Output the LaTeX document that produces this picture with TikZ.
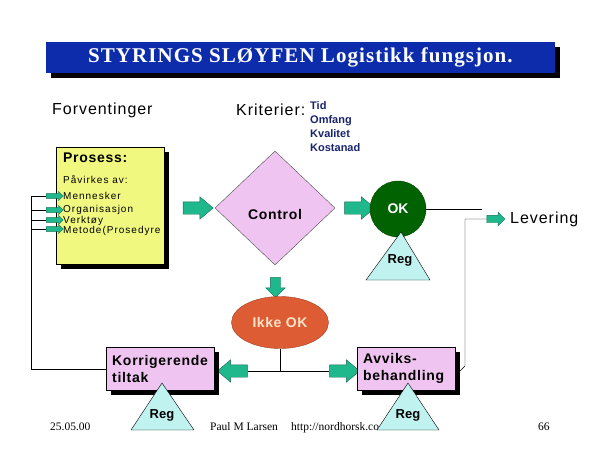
\documentclass[tikz,border=0pt]{standalone}
\usepackage{fontspec}
\setmainfont{Liberation Sans}
\newfontfamily\timesFont{Liberation Serif}
\usetikzlibrary{shapes.geometric,shapes.arrows,shadows}
\definecolor{titleblue}{RGB}{12,44,172}
\definecolor{criteriablue}{RGB}{24,36,110}
\definecolor{arrowgreen}{RGB}{30,184,140}
\definecolor{processyellow}{RGB}{240,248,128}
\definecolor{actionpink}{RGB}{240,196,240}
\definecolor{okgreen}{RGB}{0,98,0}
\definecolor{ikkered}{RGB}{222,92,52}
\definecolor{ikketext}{RGB}{255,226,200}
\definecolor{regcyan}{RGB}{192,242,240}
\tikzstyle{titleBar} = [
 rectangle,
 fill=titleblue,
 text=white,
 font=\timesFont\bfseries\fontsize{21}{24}\selectfont\addfontfeature{LetterSpace=5},
 drop shadow={shadow xshift=5pt, shadow yshift=-5pt, fill=black, opacity=1}
]
\tikzstyle{heading} = [
 anchor=west,
 inner sep=0,
 font=\fontsize{16}{19}\selectfont\addfontfeature{LetterSpace=6}
]
\tikzstyle{criteria} = [
 anchor=north west,
 inner sep=0,
 align=left,
 text=criteriablue,
 font=\bfseries\fontsize{11}{14}\selectfont
]
\tikzstyle{smallText} = [
 anchor=west,
 inner sep=0,
 text height=7pt,
 text depth=2pt,
 font=\fontsize{10}{12}\selectfont\addfontfeature{LetterSpace=10}
]
\tikzstyle{boldText} = [
 inner sep=0,
 text height=10pt,
 text depth=3pt,
 font=\bfseries\fontsize{14}{17}\selectfont\addfontfeature{LetterSpace=5}
]
\tikzstyle{regText} = [
 inner sep=0,
 text height=9pt,
 text depth=3pt,
 font=\bfseries\fontsize{13}{15}\selectfont
]
\tikzstyle{footer} = [
 anchor=west,
 inner sep=0,
 text height=8pt,
 text depth=2pt,
 font=\timesFont\fontsize{11.5}{13}\selectfont
]
\tikzstyle{shadowBox} = [
 rectangle,
 draw=black,
 thin,
 drop shadow={shadow xshift=5pt, shadow yshift=-5pt, fill=black, opacity=1}
]
\tikzstyle{yellowBox} = [shadowBox, fill=processyellow]
\tikzstyle{pinkBox} = [
 shadowBox,
 fill=actionpink,
 anchor=north west,
 align=left,
 inner xsep=6pt,
 minimum height=43,
 font=\bfseries\fontsize{14}{17}\selectfont\addfontfeature{LetterSpace=5}
]
\tikzstyle{blockArrow} = [
 single arrow,
 draw=arrowgreen!60!black,
 fill=arrowgreen,
 thin,
 inner xsep=0,
 single arrow head indent=0pt
]
\tikzstyle{bigArrow} = [blockArrow, inner ysep=6pt, single arrow head extend=5pt, single arrow tip angle=80, minimum height=30]
\tikzstyle{smallArrow} = [blockArrow, inner ysep=2.2pt, single arrow head extend=2.3pt, minimum height=17]
\tikzstyle{levArrow} = [blockArrow, inner ysep=3.5pt, single arrow head extend=3pt, minimum height=18]
\tikzstyle{downArrow} = [blockArrow, inner xsep=5pt, inner ysep=0, single arrow head extend=4.5pt, minimum height=20, shape border rotate=270]
\tikzstyle{diamondNode} = [diamond, draw=black!70, fill=actionpink, minimum width=120, minimum height=114, inner sep=0]
\tikzstyle{okNode} = [
 circle,
 draw=okgreen!70!black,
 fill=okgreen,
 text=white,
 minimum size=56,
 inner sep=0,
 font=\bfseries\fontsize{14}{17}\selectfont
]
\tikzstyle{ikkeNode} = [
 ellipse,
 draw=ikkered!70!black,
 fill=ikkered,
 text=ikketext,
 minimum width=97,
 minimum height=52,
 inner sep=0,
 font=\bfseries\fontsize{14}{17}\selectfont\addfontfeature{LetterSpace=4}
]
\tikzstyle{regTri} = [draw=black, fill=regcyan, thin]

\begin{document}
\begin{tikzpicture}[x=1pt,y=-1pt]
  \useasboundingbox (0,0) rectangle (600,450);
  \node[titleBar, minimum width=509, minimum height=31] (title) at (300.5,57.5) {STYRINGS SLØYFEN Logistikk fungsjon.};
  \node[heading] (forventinger) at (52,110) {Forventinger};
  \node[heading] (kriterier) at (236,110) {Kriterier:};
  \node[criteria] (tid) at (310,101) {Tid\\Omfang\\Kvalitet\\Kostanad};

  \node[yellowBox, minimum width=108, minimum height=117, anchor=north west] (prosess) at (56,147) {};
  \node[boldText, anchor=west] (prosessTitle) at (63,159) {Prosess:};
  \node[smallText] (pavirkes) at (63,181) {Påvirkes av:};
  \node[smallText] (mennesker) at (63,197) {Mennesker};
  \node[smallText] (organisasjon) at (63,210) {Organisasjon};
  \node[smallText] (verktoy) at (63,220.5) {Verktøy};
  \node[smallText] (metode) at (63,231) {Metode(Prosedyre};

  \node[bigArrow] (toControl) at (194.5,208) {};
  \node[diamondNode] (control) at (275,208) {};
  \node[boldText] (controlText) at (275,216) {Control};
  \node[bigArrow] (toOk) at (356,208) {};
  \node[okNode] (ok) at (398,209) {OK};
  \draw[regTri] (401,232) -- (366,280) -- (430,280) -- cycle;
  \node[regText] (regOk) at (400,260) {Reg};
  \node[levArrow] (toLevering) at (494,219) {};
  \node[heading] (levering) at (510,219) {Levering};

  \node[downArrow] (toIkke) at (275.5,285) {};
  \node[ikkeNode] (ikke) at (280,322.5) {Ikke OK};
  \node[bigArrow, shape border rotate=180] (toKorrigerende) at (236,371) {};
  \node[bigArrow] (toAvviks) at (341,371) {};
  \node[pinkBox, text width=96] (korrigerende) at (106,347) {Korrigerende\\tiltak};
  \node[pinkBox, text width=86] (avviks) at (357,347) {Avviks-\\behandling};

  \coordinate (feedTop) at (31,196);
  \coordinate (okEnd) at (482,209);
  \coordinate (avviksCorner) at (459,372);
  \coordinate (rightTurn) at (465,366);
  \coordinate (rightTop) at (465,219);
  \draw (korrigerende.west) -| (feedTop) -- (53.5,196);
  \draw (feedTop |- 0,210) -- (53.5,210);
  \draw (feedTop |- 0,220) -- (53.5,220);
  \draw (feedTop |- 0,229) -- (53.5,229);
  \node[smallArrow] (inMennesker) at (53.5,196) {};
  \node[smallArrow] (inOrganisasjon) at (53.5,210) {};
  \node[smallArrow] (inVerktoy) at (53.5,220) {};
  \node[smallArrow] (inMetode) at (53.5,229) {};
  \draw (ok.east) -- (okEnd);
  \draw (avviksCorner) -- (rightTurn) -- (rightTop) -- (toLevering.tail);
  \draw (toKorrigerende.tail) -- (toAvviks.tail);
  \draw (ikke.south) -- (ikke.south |- toAvviks.tail);

  \node[footer] (date) at (50,427) {25.05.00};
  \node[footer] (author) at (210,427) {Paul M Larsen};
  \node[footer] (url) at (291,427) {http://nordhorsk.co};
  \node[footer] (page) at (538,427) {66};
  \draw[regTri] (162,383) -- (131,430) -- (194,430) -- cycle;
  \node[regText] (regKorrigerende) at (162,415) {Reg};
  \draw[regTri] (408,383) -- (377,430) -- (439,430) -- cycle;
  \node[regText] (regAvviks) at (408,415) {Reg};
\end{tikzpicture}
\end{document}
